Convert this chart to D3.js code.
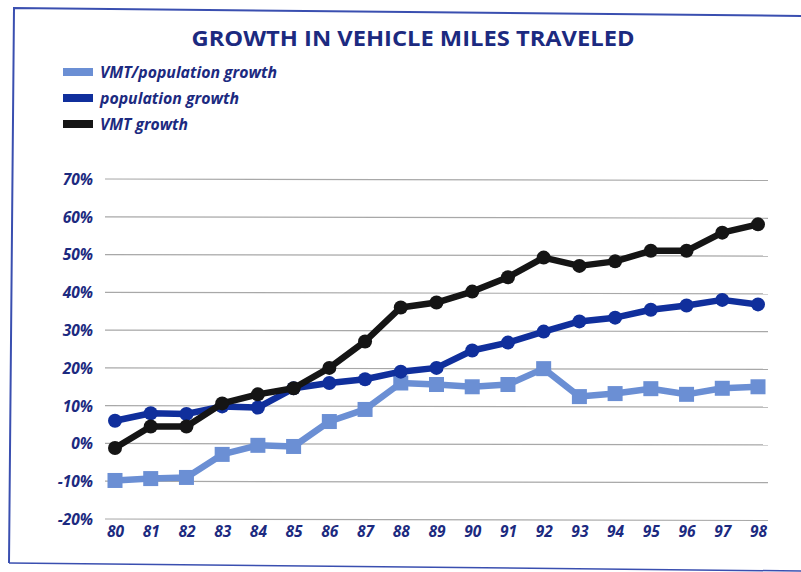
<!DOCTYPE html>
<html><head><meta charset="utf-8">
<script src="https://cdn.jsdelivr.net/npm/d3@7"></script>
<style>body{margin:0;background:#fff;} svg{display:block;}</style>
</head><body>
<svg id="c" width="801" height="572"></svg>
<script>
const years = ["80","81","82","83","84","85","86","87","88","89","90","91","92","93","94","95","96","97","98"];
const vmtPerPop = [-9.8,-9.3,-9.0,-2.9,-0.5,-0.8,5.8,9.0,16.0,15.6,15.0,15.6,19.8,12.4,13.2,14.5,13.0,14.6,15.0];
const popGrowth = [6.0,8.0,7.8,9.8,9.5,14.6,16.0,17.0,19.0,20.0,24.6,26.7,29.6,32.3,33.3,35.4,36.5,38.0,36.8];
const vmtGrowth = [-1.2,4.5,4.5,10.6,13.0,14.6,20.0,27.0,36.0,37.3,40.2,44.0,49.2,47.0,48.2,51.0,51.0,55.8,58.0];
const yTicks = [-20,-10,0,10,20,30,40,50,60,70];
const seriesNames = ["VMT/population growth","population growth","VMT growth"];
const seriesColors = ["#6b8fd4","#102f9c","#151515"];
const title = "GROWTH IN VEHICLE MILES TRAVELED";

const svg = d3.select("#c");
const navy = "#1c2a80";
const font = "'Open Sans', 'DejaVu Sans', sans-serif";

// frame
svg.append("path")
  .attr("d","M9,563 L14,8 L805,16")
  .attr("fill","none").attr("stroke","#3a4fb0").attr("stroke-width",2);
svg.append("path")
  .attr("d","M9,563 L801,571")
  .attr("fill","none").attr("stroke","#3a4fb0").attr("stroke-width",1.5);

// title
svg.append("text").attr("x",413).attr("y",46).attr("text-anchor","middle")
  .attr("font-family",font).attr("font-weight",700).attr("font-size",22)
  .attr("fill",navy).attr("textLength",443).attr("lengthAdjust","spacingAndGlyphs")
  .text(title);

const x = d3.scalePoint().domain(years).range([115,758]);
const y = d3.scaleLinear().domain([-20,70]).range([519,179]);

// grid
svg.append("g").selectAll("line").data(yTicks).join("line")
  .attr("x1",105).attr("x2",768)
  .attr("y1",d=>y(d)).attr("y2",d=>y(d)+1.5)
  .attr("stroke","#a8a8a8").attr("stroke-width",1.2);

// y axis labels
const yAxis = d3.axisLeft(y).tickValues(yTicks).tickFormat(d=>d+"%").tickSize(0).tickPadding(0);
const gy = svg.append("g").attr("transform","translate(93,0)").call(yAxis);
gy.select(".domain").remove();
gy.selectAll("text").attr("font-family",font).attr("font-weight",700).attr("font-style","italic")
  .attr("font-size",15.5).attr("fill",navy).attr("dy","0.35em");

// x axis labels
const xAxis = d3.axisBottom(x).tickSize(0).tickPadding(0);
const gx = svg.append("g").attr("transform","translate(0,523)").call(xAxis);
gx.select(".domain").remove();
gx.selectAll("text").attr("font-family",font).attr("font-weight",700).attr("font-style","italic")
  .attr("font-size",15.5).attr("fill",navy).attr("dy","0.9em");

const line = d3.line().x((d,i)=>x(years[i])).y(d=>y(d));

// VMT/pop (squares)
svg.append("path").datum(vmtPerPop).attr("d",line).attr("fill","none")
  .attr("stroke",seriesColors[0]).attr("stroke-width",6.5).attr("stroke-linejoin","round");
svg.append("g").selectAll("rect").data(vmtPerPop).join("rect")
  .attr("x",(d,i)=>x(years[i])-7.5).attr("y",d=>y(d)-7.5).attr("width",15).attr("height",15)
  .attr("fill",seriesColors[0]);

// population growth
svg.append("path").datum(popGrowth).attr("d",line).attr("fill","none")
  .attr("stroke",seriesColors[1]).attr("stroke-width",6.5).attr("stroke-linejoin","round");
svg.append("g").selectAll("circle").data(popGrowth).join("circle")
  .attr("cx",(d,i)=>x(years[i])).attr("cy",d=>y(d)).attr("r",7).attr("fill",seriesColors[1]);

// VMT growth
svg.append("path").datum(vmtGrowth).attr("d",line).attr("fill","none")
  .attr("stroke",seriesColors[2]).attr("stroke-width",6.5).attr("stroke-linejoin","round");
svg.append("g").selectAll("circle").data(vmtGrowth).join("circle")
  .attr("cx",(d,i)=>x(years[i])).attr("cy",d=>y(d)).attr("r",7).attr("fill",seriesColors[2]);

// legend
const legY = [72,98,124];
const legW = [177,139,88];
const lg = svg.append("g");
seriesNames.forEach((n,i)=>{
  lg.append("rect").attr("x",63).attr("y",legY[i]-4).attr("width",30).attr("height",8).attr("fill",seriesColors[i]);
  lg.append("text").attr("x",100).attr("y",legY[i]).attr("dy","0.35em")
    .attr("font-family",font).attr("font-weight",700).attr("font-style","italic").attr("font-size",16)
    .attr("textLength",legW[i]).attr("lengthAdjust","spacingAndGlyphs")
    .attr("fill",navy).text(n);
});
</script>
</body></html>
